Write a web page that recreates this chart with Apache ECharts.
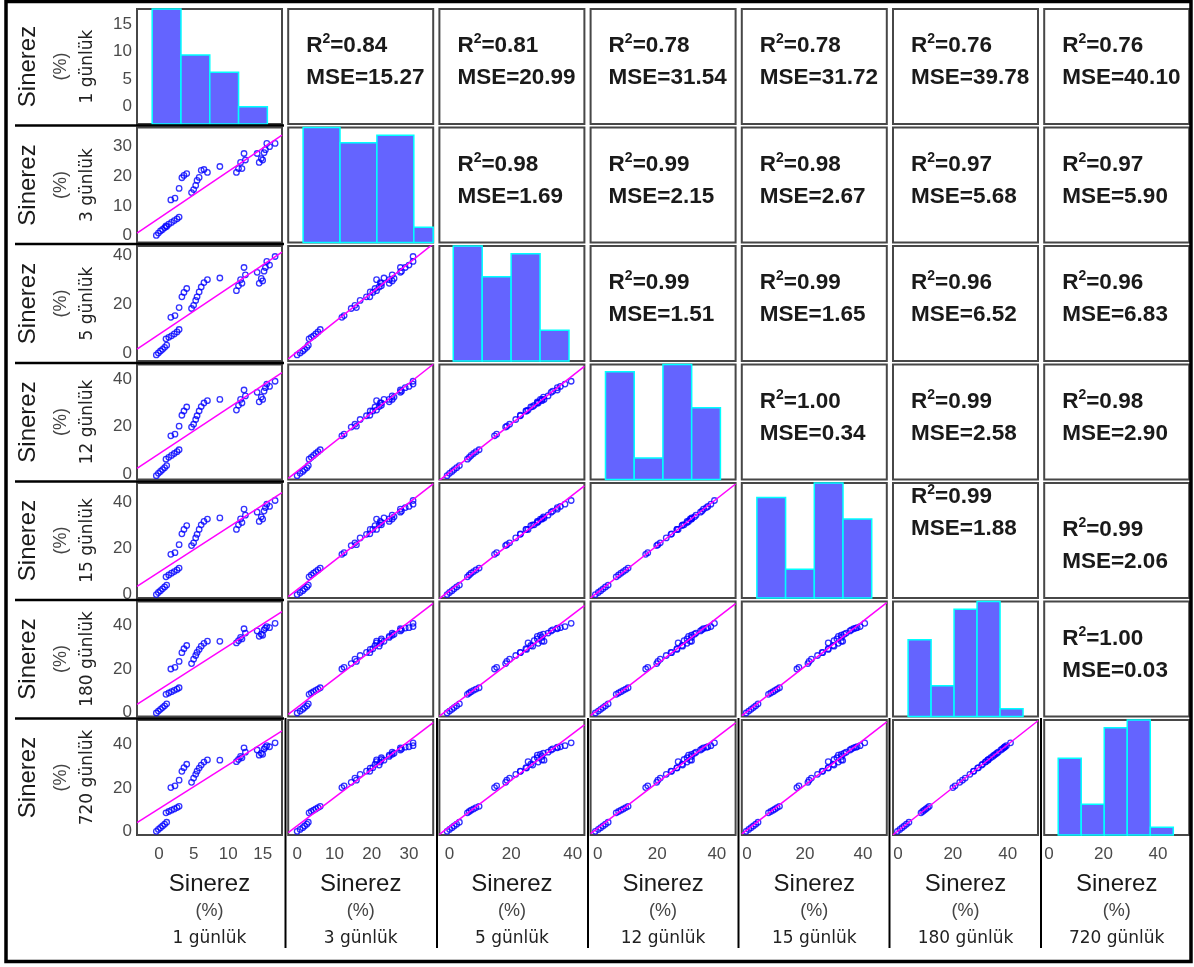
<!DOCTYPE html>
<html>
<head>
<meta charset="utf-8">
<title>Sinerez plotmatrix</title>
<script src="https://cdn.jsdelivr.net/npm/echarts@6/dist/echarts.min.js"></script>
<style>
  html, body { margin: 0; padding: 0; background: #fff; }
  #main { width: 1194px; height: 967px; }
</style>
</head>
<body>
<div id="main"></div>
<script>
// storage day labels (one variable each)
const dayLabels = ['1 günlük', '3 günlük', '5 günlük', '12 günlük', '15 günlük', '180 günlük', '720 günlük']

// sinerez (%) per sample
const day1 = [-0.4, -0.1, 0.2, 0.5, 0.8, 1.1, 1.0, 1.4, 1.8, 2.2, 2.6, 2.9, 1.7, 2.3, 2.9, 3.3, 3.6, 4.0,
  4.7, 5.0, 5.3, 5.5, 5.8, 6.1, 6.5, 7.0, 8.8, 11.2, 11.5, 11.8, 12.0, 12.3, 12.5,
  14.2, 14.5, 14.8, 15.0, 15.2, 15.4, 15.6, 16.0, 16.8]
const day3 = [0.0, 0.8, 1.5, 2.0, 2.6, 3.0, 3.2, 3.8, 4.4, 5.0, 5.6, 6.2, 12.0, 12.6, 15.9, 19.5, 20.3, 20.9,
  14.5, 15.5, 16.9, 18.6, 19.6, 22.0, 22.3, 21.3, 23.3, 21.3, 22.6, 24.7, 22.6, 27.7, 25.5,
  27.7, 24.7, 26.0, 25.5, 28.0, 29.0, 31.1, 30.0, 31.1]
const day5 = [-0.8, 0.0, 0.8, 1.5, 2.3, 3.2, 5.8, 6.4, 7.0, 7.8, 8.6, 9.6, 14.6, 15.3, 18.6, 23.0, 24.8, 26.4,
  18.2, 19.5, 21.5, 23.0, 25.0, 27.0, 28.8, 30.0, 30.7, 25.5, 27.5, 30.0, 28.5, 35.0, 32.0,
  33.0, 28.5, 30.5, 29.5, 33.5, 35.0, 37.5, 36.0, 39.5]
const day12 = [-0.8, 0.2, 1.0, 1.8, 2.6, 3.5, 6.2, 7.0, 7.8, 8.6, 9.4, 10.2, 16.1, 16.8, 20.2, 24.8, 26.6, 28.3,
  19.8, 21.0, 23.0, 24.6, 26.6, 28.5, 30.0, 31.0, 31.5, 27.0, 29.0, 31.5, 30.0, 35.5, 33.0,
  34.5, 30.5, 32.5, 31.5, 35.0, 36.5, 38.0, 37.0, 39.2]
const day15 = [-0.3, 0.6, 1.4, 2.2, 3.0, 3.8, 7.4, 8.2, 9.0, 9.7, 10.4, 11.2, 17.2, 17.9, 21.4, 26.1, 28.0, 29.7,
  21.0, 22.2, 24.3, 25.9, 28.0, 30.0, 31.5, 32.5, 33.0, 28.0, 30.0, 32.6, 31.0, 36.8, 34.2,
  35.5, 31.5, 33.5, 32.5, 36.0, 37.5, 39.0, 38.0, 40.6]
const day180 = [-0.2, 0.7, 1.5, 2.3, 3.1, 4.0, 8.4, 9.0, 9.6, 10.2, 10.8, 11.4, 20.0, 20.8, 23.5, 27.5, 29.3, 30.8,
  22.5, 24.5, 26.2, 27.6, 29.0, 30.5, 31.8, 32.8, 32.7, 32.0, 33.0, 34.5, 33.8, 38.5, 36.5,
  37.5, 35.0, 36.0, 35.5, 38.0, 38.8, 39.5, 39.0, 41.0]
const day720 = [-0.1, 0.8, 1.6, 2.4, 3.2, 4.1, 8.5, 9.1, 9.7, 10.3, 10.9, 11.5, 20.2, 21.0, 23.6, 27.7, 29.4, 31.0,
  22.6, 24.6, 26.3, 27.8, 29.2, 30.6, 32.0, 33.0, 32.9, 32.2, 33.2, 34.6, 34.0, 38.6, 36.6,
  37.6, 35.2, 36.1, 35.6, 38.1, 38.9, 39.6, 39.1, 40.9]
const dayValues = [day1, day3, day5, day12, day15, day180, day720]

// axis limits and tick labels of each variable
const axisMin = [-3.2, -2.4, -3.3, -2.4, -1.8, -1.8, -1.8]
const axisMax = [17.8, 36.5, 43.8, 46.3, 48.2, 51, 51.5]
const tickValues = [[0, 5, 10, 15], [0, 10, 20, 30], [0, 20, 40], [0, 20, 40], [0, 20, 40], [0, 20, 40], [0, 20, 40]]

// diagonal histograms: first bin edge, bin width, counts
const histStart = [-1.0, 1.6, 1.2, 2.6, 3.4, 3.7, 3.35]
const histWidth = [4.17, 9.9, 9.4, 9.65, 9.9, 8.37, 8.46]
const histCounts = [[20, 12, 9, 3], [15, 13, 14, 2], [15, 11, 14, 4], [15, 3, 16, 10], [14, 4, 16, 11], [10, 4, 14, 15, 1], [10, 4, 14, 15, 1]]

// upper triangle statistics, row by row
const r2Values = [[0.84, 0.81, 0.78, 0.78, 0.76, 0.76], [0.98, 0.99, 0.98, 0.97, 0.97], [0.99, 0.99, 0.96, 0.96], [1.00, 0.99, 0.98], [0.99, 0.99], [1.00]]
const mseValues = [[15.27, 20.99, 31.54, 31.72, 39.78, 40.10], [1.69, 2.15, 2.67, 5.68, 5.90], [1.51, 1.65, 6.52, 6.83], [0.34, 2.58, 2.90], [1.88, 2.06], [0.03]]

// layout
const N = 7
const cellW = 145, cellH = 115
const cellX = c => 137 + c * 151.2
const cellY = r => 9 + r * 118.5
const FONT = 'Liberation Sans, Arial, sans-serif'
const textShift = {'4-5': -23, '4-6': 10}

function fitLine(xs, ys, x0, x1) {
  const n = xs.length
  let sx = 0, sy = 0, sxx = 0, sxy = 0
  for (let i = 0; i < n; i++) {
    sx += xs[i]; sy += ys[i]; sxx += xs[i] * xs[i]; sxy += xs[i] * ys[i]
  }
  const b = (n * sxy - sx * sy) / (n * sxx - sx * sx)
  const a = (sy - b * sx) / n
  return [[x0, a + b * x0], [x1, a + b * x1]]
}

let grids = [], xAxes = [], yAxes = [], series = [], graphics = []

for (let r = 0; r < N; r++) {
  for (let c = 0; c <= r; c++) {
    const gi = grids.length
    grids.push({
      left: cellX(c), top: cellY(r), width: cellW, height: cellH,
      show: true, backgroundColor: '#fff', borderColor: '#474747', borderWidth: 2,
      containLabel: false, outerBoundsMode: 'none'
    })
    const xi = xAxes.length
    xAxes.push({
      type: 'value', gridIndex: gi, min: axisMin[c], max: axisMax[c],
      axisLine: {show: false}, axisTick: {show: false}, splitLine: {show: false},
      axisLabel: {show: r === N - 1, customValues: tickValues[c], color: '#4a4a4a', fontSize: 17, fontFamily: FONT, margin: 11}
    })
    const yi = yAxes.length
    yAxes.push({
      type: 'value', gridIndex: gi, min: axisMin[r], max: axisMax[r],
      axisLine: {show: false}, axisTick: {show: false}, splitLine: {show: false},
      axisLabel: {show: c === 0, customValues: tickValues[r], color: '#4a4a4a', fontSize: 17, fontFamily: FONT, margin: 5}
    })
    if (r === c) {
      const counts = histCounts[r]
      const ci = yAxes.length
      yAxes.push({type: 'value', gridIndex: gi, min: 0, max: Math.max(...counts), show: false})
      const bins = counts.map((n, i) => [histStart[r] + i * histWidth[r], histStart[r] + (i + 1) * histWidth[r], n])
      series.push({
        type: 'custom', xAxisIndex: xi, yAxisIndex: ci, data: bins, silent: true,
        renderItem(params, api) {
          const p0 = api.coord([api.value(0), 0])
          const p1 = api.coord([api.value(1), api.value(2)])
          const cs = params.coordSys
          const rect = echarts.graphic.clipRectByRect(
            {x: p0[0], y: p1[1], width: p1[0] - p0[0], height: p0[1] - p1[1]},
            {x: cs.x, y: cs.y, width: cs.width, height: cs.height})
          return rect && {type: 'rect', shape: rect, style: {fill: '#6464ff', stroke: '#00ffff', lineWidth: 1.5}}
        }
      })
    } else {
      const xs = dayValues[c], ys = dayValues[r]
      series.push({
        type: 'scatter', xAxisIndex: xi, yAxisIndex: yi, silent: true,
        data: xs.map((v, i) => [v, ys[i]]),
        symbol: 'circle', symbolSize: 5.5,
        itemStyle: {color: 'rgba(0,0,0,0)', borderColor: '#0000ff', borderWidth: 1.3}
      })
      series.push({
        type: 'line', xAxisIndex: xi, yAxisIndex: yi, silent: true, clip: true,
        data: fitLine(xs, ys, axisMin[c], axisMax[c]),
        symbol: 'none', lineStyle: {color: '#ff00ff', width: 1.5}, z: 3
      })
    }
  }
}

// upper triangle: boxes with R2 / MSE
for (let r = 0; r < N - 1; r++) {
  for (let c = r + 1; c < N; c++) {
    graphics.push({
      type: 'rect', shape: {x: cellX(c), y: cellY(r), width: cellW, height: cellH},
      style: {fill: '#fff', stroke: '#474747', lineWidth: 2}
    })
    const k = c - r - 1
    const dy = textShift[r + '-' + c] || 0
    graphics.push({
      type: 'text', x: cellX(c) + 18, y: cellY(r) + 37 + dy,
      style: {
        text: '{a|R}{s|2}{a|=' + r2Values[r][k].toFixed(2) + '}',
        verticalAlign: 'middle',
        rich: {
          a: {fontFamily: FONT, fontWeight: 'bold', fontSize: 22.5, lineHeight: 27, fill: '#1a1a1a'},
          s: {fontFamily: FONT, fontWeight: 'bold', fontSize: 14, lineHeight: 27, verticalAlign: 'top', fill: '#1a1a1a'}
        }
      }
    })
    graphics.push({
      type: 'text', x: cellX(c) + 18, y: cellY(r) + 69 + dy,
      style: {
        text: 'MSE=' + mseValues[r][k].toFixed(2), verticalAlign: 'middle',
        font: 'bold 22.5px ' + FONT, fill: '#1a1a1a'
      }
    })
  }
}

// axis titles
for (let i = 0; i < N; i++) {
  const cy = cellY(i) + cellH / 2
  graphics.push({type: 'text', x: 28, y: cy, rotation: Math.PI / 2,
    style: {text: 'Sinerez', align: 'center', verticalAlign: 'middle', font: '24px ' + FONT, fill: '#1a1a1a'}})
  graphics.push({type: 'text', x: 61, y: cy, rotation: Math.PI / 2,
    style: {text: '(%)', align: 'center', verticalAlign: 'middle', font: '18px ' + FONT, fill: '#444'}})
  graphics.push({type: 'text', x: 88, y: cy, rotation: Math.PI / 2,
    style: {text: dayLabels[i], align: 'center', verticalAlign: 'middle', font: '17px DejaVu Sans', fill: '#222'}})

  const cx = cellX(i) + cellW / 2
  graphics.push({type: 'text', x: cx, y: 884,
    style: {text: 'Sinerez', align: 'center', verticalAlign: 'middle', font: '24px ' + FONT, fill: '#1a1a1a'}})
  graphics.push({type: 'text', x: cx, y: 911,
    style: {text: '(%)', align: 'center', verticalAlign: 'middle', font: '18px ' + FONT, fill: '#444'}})
  graphics.push({type: 'text', x: cx, y: 939,
    style: {text: dayLabels[i], align: 'center', verticalAlign: 'middle', font: '17px DejaVu Sans', fill: '#222'}})
}

// table rules of the pasted figure
const rowRules = [125.5, 244, 363, 481.5, 600, 718.5]
rowRules.forEach(y => graphics.push({type: 'line', shape: {x1: 15, y1: y, x2: 284, y2: y}, style: {stroke: '#000', lineWidth: 2.5}, z: 10}))
const colRules = [285.5, 437, 588, 738.5, 889.5, 1041]
colRules.forEach(x => graphics.push({type: 'line', shape: {x1: x, y1: 718, x2: x, y2: 948}, style: {stroke: '#000', lineWidth: 2}, z: 10}))
graphics.push({type: 'rect', shape: {x: 6, y: 1.5, width: 1185, height: 960}, style: {fill: 'none', stroke: '#000', lineWidth: 3.5}, z: 10})

const chart = echarts.init(document.getElementById('main'))
chart.setOption({
  animation: false,
  textStyle: {fontFamily: FONT},
  grid: grids,
  xAxis: xAxes,
  yAxis: yAxes,
  series: series,
  graphic: graphics
})
window.addEventListener('resize', () => chart.resize())
</script>
</body>
</html>
